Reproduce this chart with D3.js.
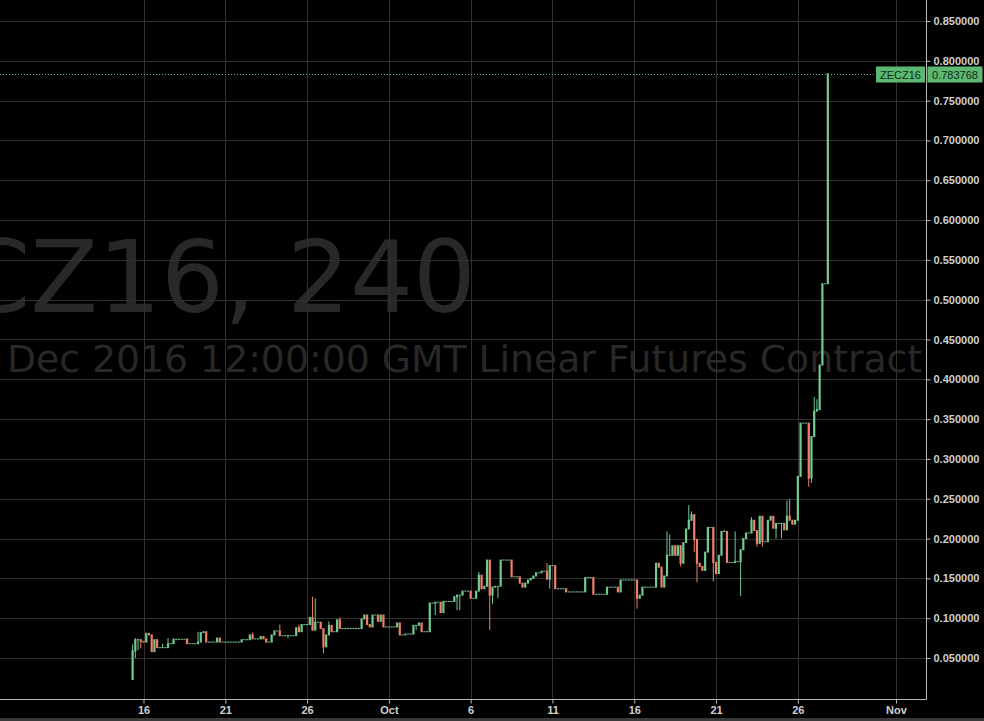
<!DOCTYPE html>
<html><head><meta charset="utf-8">
<script src="https://cdn.jsdelivr.net/npm/d3@7"></script>
<style>html,body{margin:0;padding:0;background:#000;overflow:hidden}</style>
</head><body>
<svg id="c" width="984" height="721"></svg>
<script>
// ---------- data ----------
const symbol = "ZECZ16";
const intervalLabel = "ZECZ16, 240";
const subtitle = "Dec 2016 12:00:00 GMT Linear Futures Contract";
const firstCandle = Date.UTC(2016, 8, 15, 8);   // 4-hour candles
const firstOpen = 0.023;
const closes = [
  .059, .073, .073, .071, .070, .081, .079, .058, .073, .063,
  .063, .063, .063, .068, .068, .073, .0735, .0735, .0735, .0735,
  .068, .068, .068, .068, .070, .082, .083, .070, .070, .070,
  .070, .075, .070, .070, .070, .070, .070, .070, .070, .070,
  .073, .073, .073, .079, .074, .074, .074, .077, .074, .070,
  .070, .079, .084, .084, .078, .078, .078, .078, .078, .078,
  .088, .083, .092, .092, .092, .101, .085, .095, .095, .087,
  .064, .079, .091, .083, .083, .098, .087, .087, .087, .087,
  .087, .087, .087, .087, .099, .104, .092, .089, .104, .104,
  .096, .104, .089, .089, .089, .089, .089, .094, .079, .079,
  .080, .080, .080, .091, .091, .094, .083, .083, .083, .119,
  .119, .120, .120, .107, .121, .121, .121, .121, .127, .129,
  .129, .134, .134, .134, .125, .125, .134, .154, .137, .140,
  .173, .129, .139, .140, .140, .173, .173, .173, .173, .152,
  .152, .152, .144, .139, .144, .148, .150, .153, .157, .157,
  .159, .159, .149, .166, .166, .137, .137, .137, .137, .133,
  .133, .133, .133, .133, .133, .133, .151, .151, .151, .130,
  .130, .130, .130, .130, .139, .139, .139, .139, .133, .148,
  .148, .148, .148, .148, .148, .125, .129, .139, .139, .139,
  .139, .139, .169, .164, .139, .153, .179, .179, .191, .179,
  .191, .169, .195, .212, .223, .230, .199, .169, .165, .160,
  .183, .214, .214, .170, .156, .179, .209, .209, .170, .170,
  .170, .171, .171, .186, .200, .207, .207, .223, .210, .194,
  .228, .196, .196, .223, .228, .213, .219, .219, .219, .211,
  .228, .223, .218, .223, .278, .345, .345, .345, .276, .328,
  .360, .362, .418, .520, .520, .783768
];
const wickHighs = [
  [0,.067],[1,.075],[11,.068],[13,.075],[15,.075],[20,.075],[24,.083],[44,.082],[54,.092],
  [61,.092],[66,.127],[67,.125],[72,.096],[76,.101],[127,.158],[152,.169],[196,.209],
  [197,.205],[204,.242],[205,.234],[217,.211],[221,.209],[227,.227],[240,.248],[241,.250],
  [250,.378],[251,.375]
];
const wickLows = [
  [1,.050],[2,.060],[3,.062],[57,.075],[70,.056],[104,.085],[111,.104],[119,.110],[120,.110],
  [131,.085],[132,.118],[134,.125],[153,.137],[185,.112],[201,.165],[206,.183],[207,.145],
  [213,.146],[223,.128],[229,.190],[231,.190],[236,.200],[238,.200],[248,.265],[249,.270]
];
const yTicks = [0.05,0.10,0.15,0.20,0.25,0.30,0.35,0.40,0.45,0.50,0.55,0.60,0.65,0.70,0.75,0.80,0.85];
const xTickDates = ["2016-09-16","2016-09-21","2016-09-26","2016-10-01","2016-10-06","2016-10-11","2016-10-16","2016-10-21","2016-10-26","2016-11-01"];
const xTickLabels = ["16","21","26","Oct","6","11","16","21","26","Nov"];
const lastPrice = 0.783768;

// ---------- styles ----------
const UP = "#72c992", DOWN = "#ee8068", LABEL = "#5cb870";
const GRID = "#303030", AXIS = "#b8b8b8", TEXT = "#cfcfcf";
const W = 984, H = 721, plotR = 926.5, plotB = 699.5;

const svg = d3.select("#c");
svg.append("rect").attr("width", W).attr("height", H).attr("fill", "#000");

const x = d3.scaleUtc().domain([Date.UTC(2016,8,16), Date.UTC(2016,10,1)]).range([143.5, 896]);
const y = d3.scaleLinear().domain([0.05, 0.85]).range([658, 21]);
const tickDates = xTickDates.map(s => new Date(s + "T00:00:00Z"));

// watermark
const wm = svg.append("g").attr("font-family", "DejaVu Sans, Verdana, sans-serif").attr("fill", "#282828");
wm.append("text").attr("x", 476).attr("y", 311.5).attr("font-size", 99).attr("text-anchor", "end").text(intervalLabel);
const sub = wm.append("text").attr("x", 7).attr("y", 371.5).attr("font-size", 36.6).text(subtitle);
const sw = sub.node().getComputedTextLength();
if (sw > 0) sub.attr("font-size", 36.6 * 915 / sw);

// grid
const grid = svg.append("g").attr("stroke", GRID).attr("stroke-width", 1).attr("shape-rendering", "crispEdges");
grid.selectAll("line.h").data(yTicks).join("line").attr("class", "h")
  .attr("x1", 0).attr("x2", plotR).attr("y1", d => Math.round(y(d)) + 0.5).attr("y2", d => Math.round(y(d)) + 0.5);
grid.selectAll("line.v").data(tickDates).join("line").attr("class", "v")
  .attr("y1", 0).attr("y2", plotB).attr("x1", d => Math.round(x(d)) + 0.5).attr("x2", d => Math.round(x(d)) + 0.5);

// candles
const hiMap = new Map(wickHighs), loMap = new Map(wickLows);
const candles = closes.map((c, i) => {
  const o = i === 0 ? firstOpen : closes[i - 1];
  return { t: new Date(firstCandle + i * 4 * 3600e3), o, c,
    h: hiMap.has(i) ? hiMap.get(i) : Math.max(o, c),
    l: loMap.has(i) ? loMap.get(i) : Math.min(o, c) };
});
const cg = svg.append("g");
cg.selectAll("line").data(candles.filter(d => d.h > Math.max(d.o, d.c) || d.l < Math.min(d.o, d.c))).join("line")
  .attr("x1", d => x(d.t)).attr("x2", d => x(d.t))
  .attr("y1", d => y(d.h)).attr("y2", d => y(d.l))
  .attr("stroke", d => d.c >= d.o ? UP : DOWN).attr("stroke-width", 1);
cg.selectAll("rect").data(candles).join("rect")
  .attr("x", d => x(d.t) - 1.1).attr("width", 2.2)
  .attr("y", d => y(Math.max(d.o, d.c)) - 0.5)
  .attr("height", d => Math.max(1, Math.abs(y(d.o) - y(d.c)) + 1))
  .attr("fill", d => d.c >= d.o ? UP : DOWN);

// axes
const yAxis = svg.append("g").attr("transform", `translate(${plotR},0)`)
  .call(d3.axisRight(y).tickValues(yTicks).tickSize(4).tickPadding(3).tickFormat(d3.format(".6f")));
const xAxis = svg.append("g").attr("transform", `translate(0,${plotB})`)
  .call(d3.axisBottom(x).tickValues(tickDates).tickSize(4).tickPadding(3).tickFormat((d, i) => xTickLabels[i]));
[yAxis, xAxis].forEach(a => {
  a.select(".domain").remove();
  a.selectAll(".tick line").attr("stroke", AXIS);
  a.selectAll(".tick text").attr("fill", TEXT).attr("font-family", "Liberation Sans, Arial, sans-serif")
    .attr("font-size", 11).attr("font-weight", "bold");
});
svg.append("line").attr("x1", plotR).attr("x2", plotR).attr("y1", 0).attr("y2", plotB).attr("stroke", AXIS);
svg.append("line").attr("x1", 0).attr("x2", plotR).attr("y1", plotB).attr("y2", plotB).attr("stroke", AXIS);
svg.append("rect").attr("x", 0).attr("y", 718).attr("width", W).attr("height", 3).attr("fill", "#3a3a3a");

// last price line and labels
const ly = Math.round(y(lastPrice)) + 0.5;
svg.append("line").attr("x1", 0).attr("x2", 876).attr("y1", ly).attr("y2", ly)
  .attr("stroke", LABEL).attr("stroke-dasharray", "1,2");
svg.append("rect").attr("x", 876).attr("y", ly - 8).attr("width", 49).attr("height", 16).attr("fill", LABEL);
svg.append("rect").attr("x", 927.5).attr("y", ly - 8).attr("width", 55).attr("height", 16).attr("fill", LABEL);
svg.append("text").attr("x", 900.5).attr("y", ly + 4).attr("text-anchor", "middle")
  .attr("font-family", "Liberation Sans, Arial, sans-serif").attr("font-size", 11).attr("fill", "#102a18").text(symbol);
svg.append("text").attr("x", 955).attr("y", ly + 4).attr("text-anchor", "middle")
  .attr("font-family", "Liberation Sans, Arial, sans-serif").attr("font-size", 11).attr("fill", "#102a18")
  .text(d3.format(".6f")(lastPrice));
</script>
</body></html>
